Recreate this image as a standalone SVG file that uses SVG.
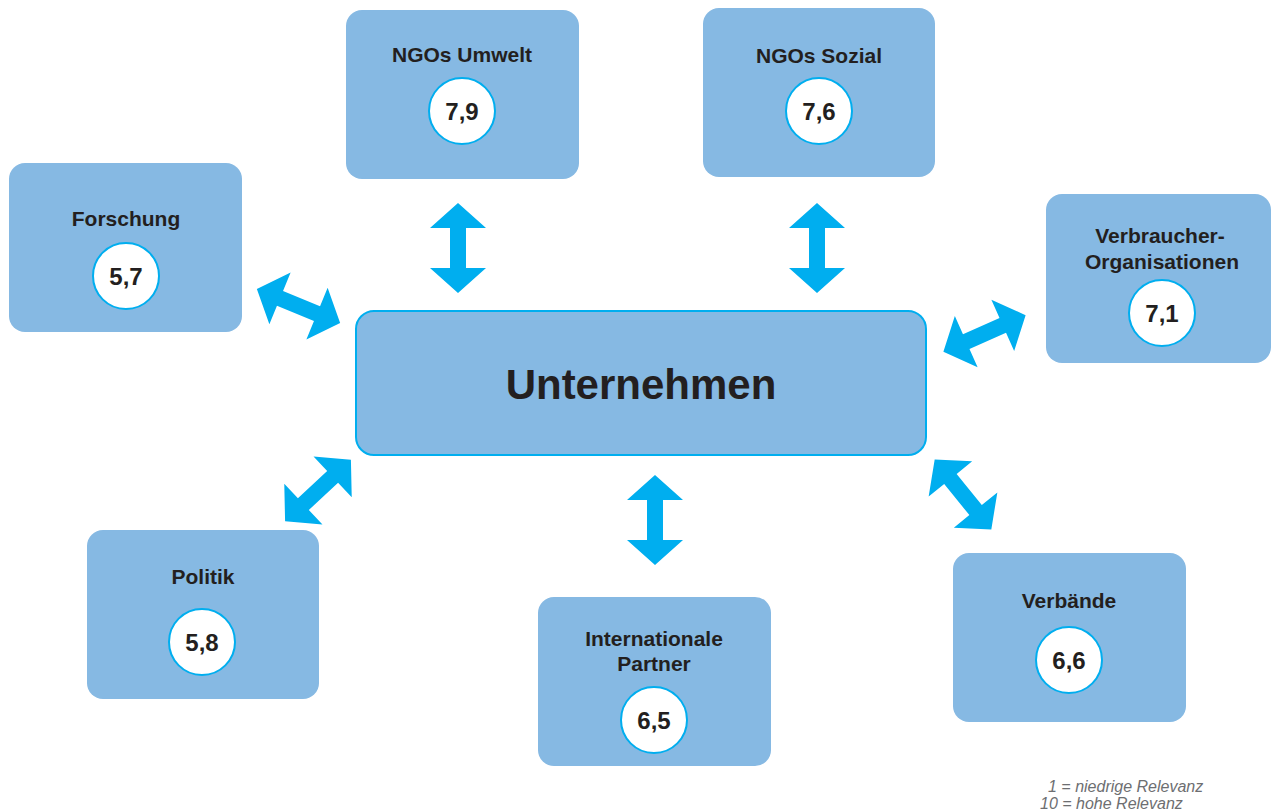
<svg xmlns="http://www.w3.org/2000/svg" xmlns:xlink="http://www.w3.org/1999/xlink" width="1272" height="812" viewBox="0 0 1272 812">
<defs>
<style>
.box{fill:#86b9e3;}
.main{fill:#86b9e3;stroke:#00aeef;stroke-width:2;}
.circ{fill:#ffffff;stroke:#00aeef;stroke-width:2;}
.t{font-family:"Liberation Sans",Arial,sans-serif;font-weight:bold;font-size:21px;fill:#231f20;text-anchor:middle;}
.n{font-family:"Liberation Sans",Arial,sans-serif;font-weight:bold;font-size:24px;fill:#231f20;text-anchor:middle;}
.big{font-family:"Liberation Sans",Arial,sans-serif;font-weight:bold;font-size:42px;fill:#231f20;text-anchor:middle;}
.leg{font-family:"Liberation Sans",Arial,sans-serif;font-style:italic;font-size:16px;fill:#6d6e71;}
.arr{fill:#00aeef;}
</style>
<polygon id="dbl" class="arr" points="-45,0 -20,-28 -20,-8 20,-8 20,-28 45,0 20,28 20,8 -20,8 -20,28"/>
</defs>
<rect width="1272" height="812" fill="#ffffff"/>
<g id="connectors">
<use xlink:href="#dbl" transform="translate(458,248) rotate(90)"/>
<use xlink:href="#dbl" transform="translate(817,248) rotate(90)"/>
<use xlink:href="#dbl" transform="translate(655,520) rotate(90)"/>
<use xlink:href="#dbl" transform="translate(298.5,306) rotate(22.3)"/>
<use xlink:href="#dbl" transform="translate(984.5,333.5) rotate(-24)"/>
<use xlink:href="#dbl" transform="translate(318,490.5) rotate(-43)"/>
<use xlink:href="#dbl" transform="translate(963,494.5) rotate(51)"/>
</g>
<g id="unternehmen">
<rect class="main" x="356" y="311" width="570" height="144" rx="18"/>
<text class="big" x="641" y="399">Unternehmen</text>
</g>
<g id="ngos-umwelt">
<rect class="box" x="346" y="10" width="233" height="169" rx="16"/>
<text class="t" x="462" y="62">NGOs Umwelt</text>
<circle class="circ" cx="462" cy="111" r="33"/>
<text class="n" x="462" y="120">7,9</text>
</g>
<g id="ngos-sozial">
<rect class="box" x="703" y="8" width="232" height="169" rx="16"/>
<text class="t" x="819" y="63">NGOs Sozial</text>
<circle class="circ" cx="819" cy="111" r="33"/>
<text class="n" x="819" y="120">7,6</text>
</g>
<g id="forschung">
<rect class="box" x="9" y="163" width="233" height="169" rx="16"/>
<text class="t" x="126" y="226">Forschung</text>
<circle class="circ" cx="126" cy="276" r="33"/>
<text class="n" x="126" y="285">5,7</text>
</g>
<g id="verbraucher">
<rect class="box" x="1046" y="194" width="225" height="169" rx="16"/>
<text class="t" x="1160" y="243">Verbraucher-</text>
<text class="t" x="1162" y="269">Organisationen</text>
<circle class="circ" cx="1162" cy="313" r="33"/>
<text class="n" x="1162" y="322">7,1</text>
</g>
<g id="politik">
<rect class="box" x="87" y="530" width="232" height="169" rx="16"/>
<text class="t" x="203" y="584">Politik</text>
<circle class="circ" cx="202" cy="642" r="33"/>
<text class="n" x="202" y="651">5,8</text>
</g>
<g id="internationale-partner">
<rect class="box" x="538" y="597" width="233" height="169" rx="16"/>
<text class="t" x="654" y="646">Internationale</text>
<text class="t" x="654" y="671">Partner</text>
<circle class="circ" cx="654" cy="720" r="33"/>
<text class="n" x="654" y="729">6,5</text>
</g>
<g id="verbaende">
<rect class="box" x="953" y="553" width="233" height="169" rx="16"/>
<text class="t" x="1069" y="608">Verbände</text>
<circle class="circ" cx="1069" cy="660" r="33"/>
<text class="n" x="1069" y="669">6,6</text>
</g>
<g id="legend">
<text class="leg" x="1048" y="792">1 = niedrige Relevanz</text>
<text class="leg" x="1040" y="809">10 = hohe Relevanz</text>
</g>
</svg>
